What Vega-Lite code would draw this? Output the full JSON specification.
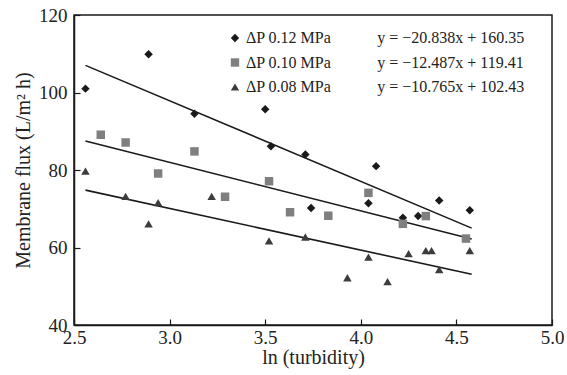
{
  "$schema": "https://vega.github.io/schema/vega-lite/v6.json",
  "width": 478,
  "height": 310,
  "autosize": "none",
  "padding": {"left": 74, "top": 15, "right": 15, "bottom": 50},
  "background": "white",
  "config": {
    "view": {"stroke": "#1a1a1a", "strokeWidth": 1.5},
    "font": "Liberation Serif",
    "axis": {
      "grid": false,
      "domainColor": "#1a1a1a",
      "domainWidth": 1.5,
      "tickColor": "#1a1a1a",
      "tickWidth": 1.2,
      "tickSize": -6,
      "labelFont": "Liberation Serif",
      "labelFontSize": 19,
      "labelColor": "#222222",
      "labelOverlap": false,
      "labelFlush": false,
      "titleFont": "Liberation Serif",
      "titleFontSize": 20,
      "titleFontWeight": "normal",
      "titleColor": "#222222"
    }
  },
  "datasets": {
    "points": [
      {"series": "ΔP 0.12 MPa", "ln_turbidity": 2.56, "flux": 101.0},
      {"series": "ΔP 0.12 MPa", "ln_turbidity": 2.89, "flux": 109.9},
      {"series": "ΔP 0.12 MPa", "ln_turbidity": 3.13, "flux": 94.5},
      {"series": "ΔP 0.12 MPa", "ln_turbidity": 3.50, "flux": 95.7},
      {"series": "ΔP 0.12 MPa", "ln_turbidity": 3.53, "flux": 86.1},
      {"series": "ΔP 0.12 MPa", "ln_turbidity": 3.71, "flux": 84.0},
      {"series": "ΔP 0.12 MPa", "ln_turbidity": 3.74, "flux": 70.2},
      {"series": "ΔP 0.12 MPa", "ln_turbidity": 4.04, "flux": 71.4},
      {"series": "ΔP 0.12 MPa", "ln_turbidity": 4.08, "flux": 81.0},
      {"series": "ΔP 0.12 MPa", "ln_turbidity": 4.22, "flux": 67.7},
      {"series": "ΔP 0.12 MPa", "ln_turbidity": 4.30, "flux": 68.1},
      {"series": "ΔP 0.12 MPa", "ln_turbidity": 4.41, "flux": 72.1},
      {"series": "ΔP 0.12 MPa", "ln_turbidity": 4.57, "flux": 69.6},
      {"series": "ΔP 0.10 MPa", "ln_turbidity": 2.64, "flux": 89.1},
      {"series": "ΔP 0.10 MPa", "ln_turbidity": 2.77, "flux": 87.1},
      {"series": "ΔP 0.10 MPa", "ln_turbidity": 2.94, "flux": 79.1},
      {"series": "ΔP 0.10 MPa", "ln_turbidity": 3.13, "flux": 84.8},
      {"series": "ΔP 0.10 MPa", "ln_turbidity": 3.29, "flux": 73.1},
      {"series": "ΔP 0.10 MPa", "ln_turbidity": 3.52, "flux": 77.1},
      {"series": "ΔP 0.10 MPa", "ln_turbidity": 3.63, "flux": 69.1},
      {"series": "ΔP 0.10 MPa", "ln_turbidity": 3.83, "flux": 68.2},
      {"series": "ΔP 0.10 MPa", "ln_turbidity": 4.04, "flux": 74.1},
      {"series": "ΔP 0.10 MPa", "ln_turbidity": 4.22, "flux": 66.1},
      {"series": "ΔP 0.10 MPa", "ln_turbidity": 4.34, "flux": 68.1},
      {"series": "ΔP 0.10 MPa", "ln_turbidity": 4.55, "flux": 62.3},
      {"series": "ΔP 0.08 MPa", "ln_turbidity": 2.56, "flux": 79.7},
      {"series": "ΔP 0.08 MPa", "ln_turbidity": 2.77, "flux": 73.2},
      {"series": "ΔP 0.08 MPa", "ln_turbidity": 2.89, "flux": 66.1},
      {"series": "ΔP 0.08 MPa", "ln_turbidity": 2.94, "flux": 71.6},
      {"series": "ΔP 0.08 MPa", "ln_turbidity": 3.22, "flux": 73.2},
      {"series": "ΔP 0.08 MPa", "ln_turbidity": 3.52, "flux": 61.7},
      {"series": "ΔP 0.08 MPa", "ln_turbidity": 3.71, "flux": 62.7},
      {"series": "ΔP 0.08 MPa", "ln_turbidity": 3.93, "flux": 52.2},
      {"series": "ΔP 0.08 MPa", "ln_turbidity": 4.04, "flux": 57.5},
      {"series": "ΔP 0.08 MPa", "ln_turbidity": 4.14, "flux": 51.2},
      {"series": "ΔP 0.08 MPa", "ln_turbidity": 4.25, "flux": 58.4},
      {"series": "ΔP 0.08 MPa", "ln_turbidity": 4.34, "flux": 59.2},
      {"series": "ΔP 0.08 MPa", "ln_turbidity": 4.37, "flux": 59.2},
      {"series": "ΔP 0.08 MPa", "ln_turbidity": 4.41, "flux": 54.3},
      {"series": "ΔP 0.08 MPa", "ln_turbidity": 4.57, "flux": 59.2}
    ],
    "fits": [
      {"series": "ΔP 0.12 MPa", "ln_turbidity": 2.56, "flux": 107.0},
      {"series": "ΔP 0.12 MPa", "ln_turbidity": 4.58, "flux": 65.0},
      {"series": "ΔP 0.10 MPa", "ln_turbidity": 2.56, "flux": 87.5},
      {"series": "ΔP 0.10 MPa", "ln_turbidity": 4.58, "flux": 62.2},
      {"series": "ΔP 0.08 MPa", "ln_turbidity": 2.56, "flux": 74.8},
      {"series": "ΔP 0.08 MPa", "ln_turbidity": 4.58, "flux": 53.1}
    ]
  },
  "layer": [
    {
      "data": {"name": "fits"},
      "mark": {"type": "line", "color": "#1a1a1a", "strokeWidth": 1.6},
      "encoding": {
        "x": {
          "field": "ln_turbidity",
          "type": "quantitative",
          "scale": {"domain": [2.5, 5.0], "nice": false, "zero": false},
          "axis": {"values": [2.5, 3.0, 3.5, 4.0, 4.5, 5.0], "format": ".1f", "title": "ln (turbidity)", "labelPadding": 9, "titlePadding": 0}
        },
        "y": {
          "field": "flux",
          "type": "quantitative",
          "scale": {"domain": [40, 120], "nice": false, "zero": false},
          "axis": {"values": [40, 60, 80, 100, 120], "title": "Membrane flux (L/m² h)", "labelPadding": 13, "titlePadding": 5}
        },
        "detail": {"field": "series", "type": "nominal"}
      }
    },
    {
      "data": {"name": "points"},
      "mark": {"type": "point", "filled": true, "size": 72, "opacity": 1},
      "encoding": {
        "x": {"field": "ln_turbidity", "type": "quantitative"},
        "y": {"field": "flux", "type": "quantitative"},
        "shape": {
          "field": "series",
          "type": "nominal",
          "scale": {"domain": ["ΔP 0.12 MPa", "ΔP 0.10 MPa", "ΔP 0.08 MPa"], "range": ["diamond", "square", "triangle-up"]},
          "legend": null
        },
        "color": {
          "field": "series",
          "type": "nominal",
          "scale": {"domain": ["ΔP 0.12 MPa", "ΔP 0.10 MPa", "ΔP 0.08 MPa"], "range": ["#1a1a1a", "#7f7f7f", "#3c3c3c"]},
          "legend": {
            "title": null,
            "orient": "none",
            "legendX": 153,
            "legendY": 15,
            "labelFont": "Liberation Serif",
            "labelFontSize": 16,
            "labelColor": "#222222",
            "labelLimit": 0,
            "labelOffset": 3,
            "rowPadding": 8.5,
            "symbolSize": 70,
            "symbolStrokeWidth": 0,
            "labelExpr": "datum.label === 'ΔP 0.12 MPa' ? 'ΔP 0.12 MPa\u2003\u2003\u2002\u2009\u2009y = −20.838x + 160.35' : datum.label === 'ΔP 0.10 MPa' ? 'ΔP 0.10 MPa\u2003\u2003\u2002\u2009\u2009y = −12.487x + 119.41' : 'ΔP 0.08 MPa\u2003\u2003\u2002\u2009\u2009y = −10.765x + 102.43'"
          }
        }
      }
    }
  ]
}
